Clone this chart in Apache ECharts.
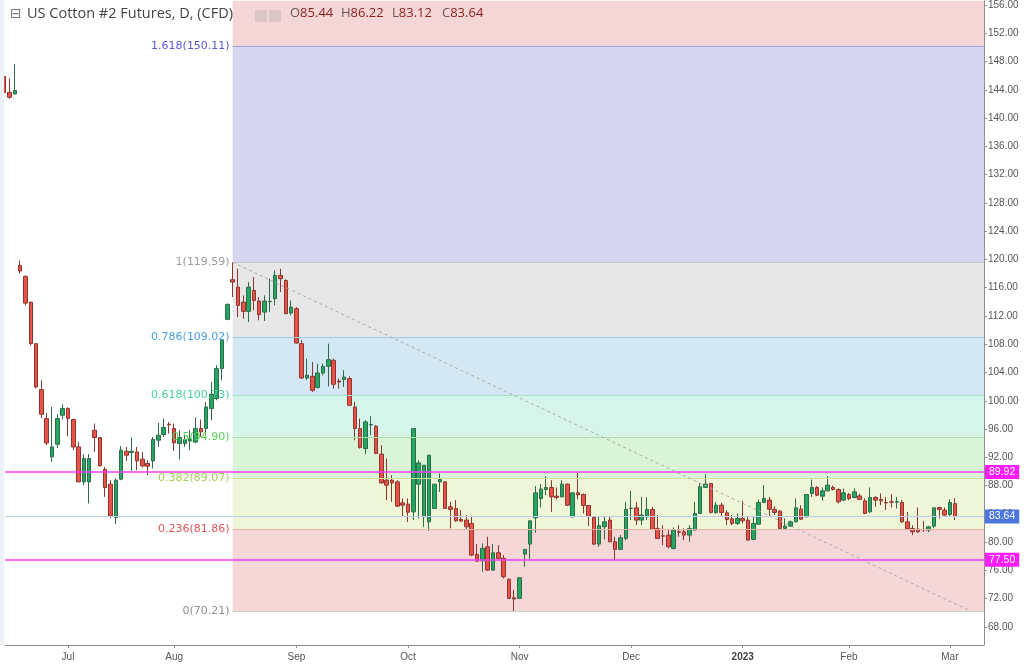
<!DOCTYPE html>
<html><head><meta charset="utf-8">
<script src="https://cdn.jsdelivr.net/npm/echarts@6/dist/echarts.min.js"></script>
<style>html,body{margin:0;padding:0;background:#fff}#c{width:1024px;height:665px}</style>
</head><body><div id="c"></div>
<script>
// ---- data (daily candles, US Cotton #2 CFD) ----
const dates = [
'2022-06-14','2022-06-15','2022-06-16','2022-06-17','2022-06-21','2022-06-22','2022-06-23','2022-06-24','2022-06-27','2022-06-28','2022-06-29','2022-06-30',
'2022-07-01','2022-07-05','2022-07-06','2022-07-07','2022-07-08','2022-07-11','2022-07-12','2022-07-13','2022-07-14','2022-07-15','2022-07-18','2022-07-19','2022-07-20','2022-07-21','2022-07-22','2022-07-25','2022-07-26','2022-07-27','2022-07-28','2022-07-29',
'2022-08-01','2022-08-02','2022-08-03','2022-08-04','2022-08-05','2022-08-08','2022-08-09','2022-08-10','2022-08-11','2022-08-12','2022-08-15','2022-08-16','2022-08-17','2022-08-18','2022-08-19','2022-08-22','2022-08-23','2022-08-24','2022-08-25','2022-08-26','2022-08-29','2022-08-30','2022-08-31',
'2022-09-01','2022-09-02','2022-09-06','2022-09-07','2022-09-08','2022-09-09','2022-09-12','2022-09-13','2022-09-14','2022-09-15','2022-09-16','2022-09-19','2022-09-20','2022-09-21','2022-09-22','2022-09-23','2022-09-26','2022-09-27','2022-09-28','2022-09-29','2022-09-30',
'2022-10-03','2022-10-04','2022-10-05','2022-10-06','2022-10-07','2022-10-10','2022-10-11','2022-10-12','2022-10-13','2022-10-14','2022-10-17','2022-10-18','2022-10-19','2022-10-20','2022-10-21','2022-10-24','2022-10-25','2022-10-26','2022-10-27','2022-10-28','2022-10-31',
'2022-11-01','2022-11-02','2022-11-03','2022-11-04','2022-11-07','2022-11-08','2022-11-09','2022-11-10','2022-11-11','2022-11-14','2022-11-15','2022-11-16','2022-11-17','2022-11-18','2022-11-21','2022-11-22','2022-11-23','2022-11-25','2022-11-28','2022-11-29','2022-11-30',
'2022-12-01','2022-12-02','2022-12-05','2022-12-06','2022-12-07','2022-12-08','2022-12-09','2022-12-12','2022-12-13','2022-12-14','2022-12-15','2022-12-16','2022-12-19','2022-12-20','2022-12-21','2022-12-22','2022-12-23','2022-12-27','2022-12-28','2022-12-29','2022-12-30',
'2023-01-03','2023-01-04','2023-01-05','2023-01-06','2023-01-09','2023-01-10','2023-01-11','2023-01-12','2023-01-13','2023-01-17','2023-01-18','2023-01-19','2023-01-20','2023-01-23','2023-01-24','2023-01-25','2023-01-26','2023-01-27','2023-01-30','2023-01-31',
'2023-02-01','2023-02-02','2023-02-03','2023-02-06','2023-02-07','2023-02-08','2023-02-09','2023-02-10','2023-02-13','2023-02-14','2023-02-15','2023-02-16','2023-02-17','2023-02-21','2023-02-22','2023-02-23','2023-02-24','2023-02-27','2023-02-28',
'2023-03-01','2023-03-02'];
const futureDates = ['2023-03-03','2023-03-06','2023-03-07'];

const opens = [145.87,143.65,143.42,119.15,117.6,113.96,108.08,101.58,97.48,92.06,93.85,97.95,
98.9,97.34,93.47,88.52,88.52,95.83,94.8,90.28,88.2,83.49,88.9,92.86,92.68,92.76,91.73,91.12,91.49,94.42,95.22,96.68,
96.07,93.95,93.95,94.3,94.16,96.07,96.07,98.9,100.31,104.55,111.52,117.13,116.08,113.96,112.65,115.62,114.1,112.55,114.02,114.45,117.74,117.03,112.41,
113.03,108.08,103.22,103.46,101.87,103.93,104.88,105.72,102.8,103.0,103.14,99.12,96.07,93.24,96.58,96.4,92.44,88.76,88.76,88.52,85.55,
85.37,84.28,88.2,83.58,82.87,84.76,88.52,88.52,84.99,84.76,83.21,83.11,82.64,78.26,77.36,79.34,76.04,78.49,77.7,74.73,72.13,
72.04,78.3,79.72,83.43,86.18,87.45,87.73,86.5,86.4,88.2,83.58,86.97,86.74,85.19,83.49,79.72,82.16,83.11,80.04,78.97,80.52,
84.76,84.85,83.11,83.58,84.62,81.94,80.89,80.99,79.11,81.46,81.46,80.99,81.7,84.06,87.73,88.3,84.2,85.23,84.14,83.29,82.64,
83.35,83.11,80.38,82.54,85.61,85.94,84.62,84.38,81.94,82.26,82.87,84.66,83.58,86.88,87.73,86.5,87.25,87.73,87.45,85.94,
86.74,86.32,86.54,85.84,84.28,86.32,86.04,85.61,85.7,85.65,85.61,82.87,81.94,81.84,81.8,81.7,82.26,84.9,84.52,
83.92,85.44];
const closes = [143.6,142.94,143.89,118.35,113.82,108.08,101.95,98.09,94.04,93.47,97.48,98.9,
97.48,93.47,88.52,91.83,91.83,94.8,90.78,87.73,83.67,88.76,93.0,92.3,92.86,91.49,90.78,90.74,94.52,95.12,96.21,96.6,
94.04,94.8,94.52,94.6,96.07,95.6,99.12,100.92,104.55,108.55,113.64,116.79,113.5,112.65,116.08,114.2,112.18,114.1,114.06,117.74,117.27,112.32,113.26,
108.17,103.22,103.6,101.48,103.93,104.88,105.82,102.33,102.66,103.36,99.36,96.07,93.39,97.0,96.64,92.54,88.38,88.06,88.38,85.09,85.23,
84.24,96.07,91.21,90.88,92.3,88.2,88.86,84.76,84.62,83.01,82.97,82.16,78.16,77.31,79.11,76.04,78.49,77.7,75.1,72.04,71.95,
74.95,78.97,83.01,86.97,87.49,87.73,86.4,86.32,88.2,85.23,86.97,86.69,85.19,83.67,79.72,82.33,82.87,80.04,78.97,80.61,84.62,
84.8,83.11,83.82,84.62,81.8,80.52,80.85,79.34,81.7,81.4,80.99,81.94,84.06,87.82,88.2,84.2,85.23,84.2,83.21,82.64,83.35,
83.01,80.28,82.64,85.61,86.18,84.66,84.2,81.94,82.26,82.87,84.85,83.25,86.74,87.73,86.64,87.25,88.06,87.45,85.7,86.97,
86.18,87.11,86.04,84.06,86.32,85.94,85.84,85.55,85.65,85.72,82.87,81.94,81.46,81.46,81.75,82.16,84.85,84.62,83.82,
85.61,83.64];
const highs = [146.2,145.58,147.66,119.86,117.74,114.0,108.1,102.9,98.23,99.12,98.09,99.5,
99.08,97.48,94.18,92.44,92.44,96.78,94.84,90.64,88.76,89.05,93.57,93.47,94.8,93.47,92.76,91.59,94.88,96.86,97.48,97.0,
96.78,95.83,95.12,95.83,97.67,97.34,99.83,102.66,105.02,108.6,113.78,119.59,118.68,114.91,116.79,117.5,114.67,114.91,117.27,118.44,118.68,117.17,114.2,
113.26,108.55,105.96,105.48,105.26,105.26,108.08,105.96,103.14,104.31,103.46,99.83,97.48,97.24,97.81,96.54,93.71,91.83,89.47,88.76,86.18,
86.18,96.11,91.59,90.9,92.3,88.2,89.71,88.6,85.7,85.94,84.52,83.82,83.58,79.72,79.82,80.75,79.72,79.58,78.16,74.87,73.22,
75.0,79.0,83.05,87.92,88.2,89.33,88.76,87.73,88.76,88.3,87.0,89.8,86.88,85.2,83.58,83.58,83.58,83.58,80.75,80.99,85.7,
87.25,85.7,86.4,86.32,84.99,83.82,82.4,81.7,82.08,82.4,81.94,82.4,85.7,88.3,89.61,88.3,85.65,85.55,84.52,83.82,84.06,
85.84,83.58,83.58,86.0,88.06,86.4,85.09,84.52,83.35,83.05,86.18,85.23,86.8,88.86,87.92,87.73,89.33,88.0,87.59,87.59,
86.97,87.59,86.88,86.18,87.73,86.5,86.88,86.4,86.78,86.4,85.94,84.28,82.4,84.9,83.01,82.3,84.9,84.99,84.9,
86.04,86.22];
const lows = [143.2,142.75,143.3,118.02,113.5,107.84,101.77,97.53,93.71,91.35,93.29,97.34,
94.98,93.0,88.48,88.06,85.47,92.76,90.74,86.4,83.35,82.54,88.76,91.49,90.08,90.18,90.56,89.47,90.42,93.47,94.88,95.36,
92.9,91.69,93.47,93.0,94.0,94.88,95.12,97.24,100.07,102.9,111.4,114.67,111.84,111.6,111.14,112.79,111.38,111.28,112.55,113.5,115.38,112.3,112.08,
108.08,103.14,102.9,101.24,101.72,103.6,102.05,101.72,101.72,101.95,99.22,94.42,93.24,92.44,95.12,92.44,88.3,85.94,85.7,85.0,83.67,
82.83,83.11,83.35,82.16,81.6,84.7,87.11,84.7,81.94,82.87,82.87,81.8,78.02,77.22,75.8,75.94,75.94,77.55,74.87,71.94,70.21,
71.95,76.51,77.55,81.31,84.9,86.64,84.28,86.04,86.32,85.09,83.5,86.04,84.06,82.26,79.58,79.34,80.38,80.04,77.46,78.87,80.28,
83.11,82.4,82.4,83.11,81.7,80.52,79.58,79.11,78.97,80.75,80.28,80.04,81.7,84.0,87.7,84.06,84.0,83.53,82.4,82.4,82.4,
82.64,80.18,80.28,82.5,85.5,83.58,83.82,81.9,81.84,82.2,82.8,83.11,83.5,86.4,86.5,85.84,87.2,87.3,85.47,85.84,
85.94,86.18,85.94,83.96,84.14,84.99,85.23,84.52,84.9,84.76,82.73,81.8,80.99,81.31,81.46,81.4,81.98,83.35,83.67,
83.67,83.12];

const yTicks = [68,72,76,80,84,88,92,96,100,104,108,112,116,120,124,128,132,136,140,144,148,152,156];
const monthNames = ['Jan','Feb','Mar','Apr','May','Jun','Jul','Aug','Sep','Oct','Nov','Dec'];

// Fibonacci retracement (anchored at the Aug 16 high)
const fibRatios = [0, 0.236, 0.382, 0.5, 0.618, 0.786, 1, 1.618];
const fibPrices = [70.21, 81.86, 89.07, 94.90, 100.73, 109.02, 119.59, 150.11];
const fibStartDate = '2022-08-16';
const fibEndDate = '2023-03-07';
const fibLabelColors = ['#8f8f8f','#e05656','#a3cd55','#55d055','#45d29a','#49a3dd','#9b9b9b','#5757d8'];
const fibLineColors  = ['#cfcfcf','#e9b3ab','#cfe4a2','#a9e2a4','#a2e5cc','#9ecce8','#c4c4c4','#a0a0e4'];
const fibFills = ['#f4d7d6','#eff6d8','#d9f4d6','#d5f5ea','#d4e8f4','#e7e7e7','#d6d6f3','#f5d6d6'];

// horizontal lines and last price
const hLines = [89.92, 77.50];
const lastPrice = 83.64;
const ohlcKeys = ['O','H','L','C'];
const ohlcVals = ['85.44','86.22','83.12','83.64'];

// ---- axes extents ----
const X_MIN = 0.15, X_MAX = 184.42;
const Y_MIN = 65.44, Y_MAX = 156.61;

const allDates = dates.concat(futureDates);
const idxOf = d => allDates.indexOf(d);
const fs = idxOf(fibStartDate), fe = idxOf(fibEndDate);

const candleData = dates.map((d, i) => [i, opens[i], closes[i], lows[i], highs[i]]);

const monthIdx = [], monthText = {};
for (let i = 1; i < dates.length; i++) {
  if (dates[i].slice(0, 7) !== dates[i - 1].slice(0, 7)) {
    monthIdx.push(i);
    const m = +dates[i].slice(5, 7);
    monthText[i] = m === 1 ? '{y|' + dates[i].slice(0, 4) + '}' : monthNames[m - 1];
  }
}

const bounds = fibPrices.concat([Y_MAX]);
const areaData = fibFills.map((c, k) => [
  { coord: [fs, bounds[k]], itemStyle: { color: c, opacity: 1 } },
  { coord: [X_MAX, bounds[k + 1]] }
]);

const fibLineData = fibPrices.map((p, k) => [
  { coord: [fs, p], lineStyle: { color: fibLineColors[k], width: 1, type: 'solid' },
    label: { show: true, position: 'start', distance: 3, formatter: fibRatios[k] + '(' + p.toFixed(2) + ')',
             color: fibLabelColors[k], fontSize: 11, fontFamily: 'DejaVu Sans' } },
  { coord: [X_MAX, p] }
]);
fibLineData.push([
  { coord: [fs, fibPrices[6]], lineStyle: { color: '#a8a8a8', width: 1, type: [3, 3] }, label: { show: false } },
  { coord: [fe, fibPrices[0]] }
]);

const priceLabel = (bg) => ({ show: true, position: 'end', distance: 1, color: '#fff', backgroundColor: bg,
  padding: [2, 4, 1, 4], fontSize: 10.5, fontFamily: 'Liberation Sans', formatter: p => p.value.toFixed(2) });

const hLineData = [{ yAxis: lastPrice, lineStyle: { color: '#bfcdec', width: 1, type: 'solid' }, label: priceLabel('#4a76de') }]
  .concat(hLines.map(v => ({ yAxis: v, lineStyle: { color: '#f23ef2', width: 1.5, type: 'solid' }, label: priceLabel('#ff1cff') })));

const chart = echarts.init(document.getElementById('c'));
chart.setOption({
  animation: false,
  backgroundColor: '#ffffff',
  grid: { left: 5, right: 40, top: 0, bottom: 20, containLabel: false },
  xAxis: {
    type: 'value', min: X_MIN, max: X_MAX, splitLine: { show: false },
    axisLine: { show: true, onZero: false, lineStyle: { color: '#8e8e8e' } },
    axisTick: { show: true, customValues: monthIdx, length: 3, lineStyle: { color: '#8e8e8e' } },
    axisLabel: { customValues: monthIdx, formatter: v => monthText[v] || '', color: '#555', fontSize: 10,
      fontFamily: 'Liberation Sans', margin: 7, rich: { y: { fontWeight: 'bold', fontSize: 10, color: '#444', fontFamily: 'Liberation Sans' } } }
  },
  yAxis: {
    type: 'value', position: 'right', min: Y_MIN, max: Y_MAX, scale: true, splitLine: { show: false },
    axisLine: { show: true, onZero: false, lineStyle: { color: '#8e8e8e' } },
    axisTick: { show: true, customValues: yTicks, length: 3, lineStyle: { color: '#8e8e8e' } },
    axisLabel: { customValues: yTicks, formatter: v => v.toFixed(2), color: '#555', fontSize: 10,
      fontFamily: 'Liberation Sans', margin: 4 }
  },
  series: [
    {
      type: 'line', name: 'fib', z: 1, clip: false, data: [[fs, fibPrices[6]]], showSymbol: false,
      lineStyle: { width: 0 }, silent: true,
      markArea: { silent: true, data: areaData },
      markLine: { silent: true, symbol: ['none', 'none'], data: fibLineData.concat(hLineData) }
    },
    {
      type: 'candlestick', name: 'Cotton', z: 3, clip: true, barWidth: 4,
      encode: { x: 0, y: [1, 2, 3, 4] },
      data: candleData,
      itemStyle: { color: '#22a863', color0: '#ec5148', borderColor: '#2f6b48', borderColor0: '#8c3630', borderWidth: 1 }
    }
  ],
  graphic: [
    { type: 'rect', left: 0, top: 0, shape: { width: 4, height: 645 }, style: { fill: '#edf0f5' }, z: 100 },
    { type: 'text', left: 10, top: 7, style: { text: '⊟', fill: '#777', font: '14px "DejaVu Sans"' }, z: 100 },
    { type: 'text', left: 27, top: 6, style: { text: 'US Cotton #2 Futures, D, (CFD)', fill: '#444', font: '14.5px "Open Sans"' }, z: 100 },
    { type: 'rect', left: 255, top: 10, shape: { width: 12, height: 12 }, style: { fill: 'rgba(170,170,170,0.35)' }, z: 100 },
    { type: 'rect', left: 269, top: 10, shape: { width: 12, height: 12 }, style: { fill: 'rgba(170,170,170,0.35)' }, z: 100 }
  ].concat(ohlcKeys.map((k, i) => ({
    type: 'text', left: [290, 341, 392, 442][i], top: 7, z: 100,
    style: { text: '{k|' + k + '}{v|' + ohlcVals[i] + '}', font: '13px "Open Sans"',
      rich: { k: { fill: '#6e5555', font: '13px "Open Sans"' }, v: { fill: '#8b1d1d', font: '13px "Open Sans"' } } }
  })))
});
</script></body></html>
